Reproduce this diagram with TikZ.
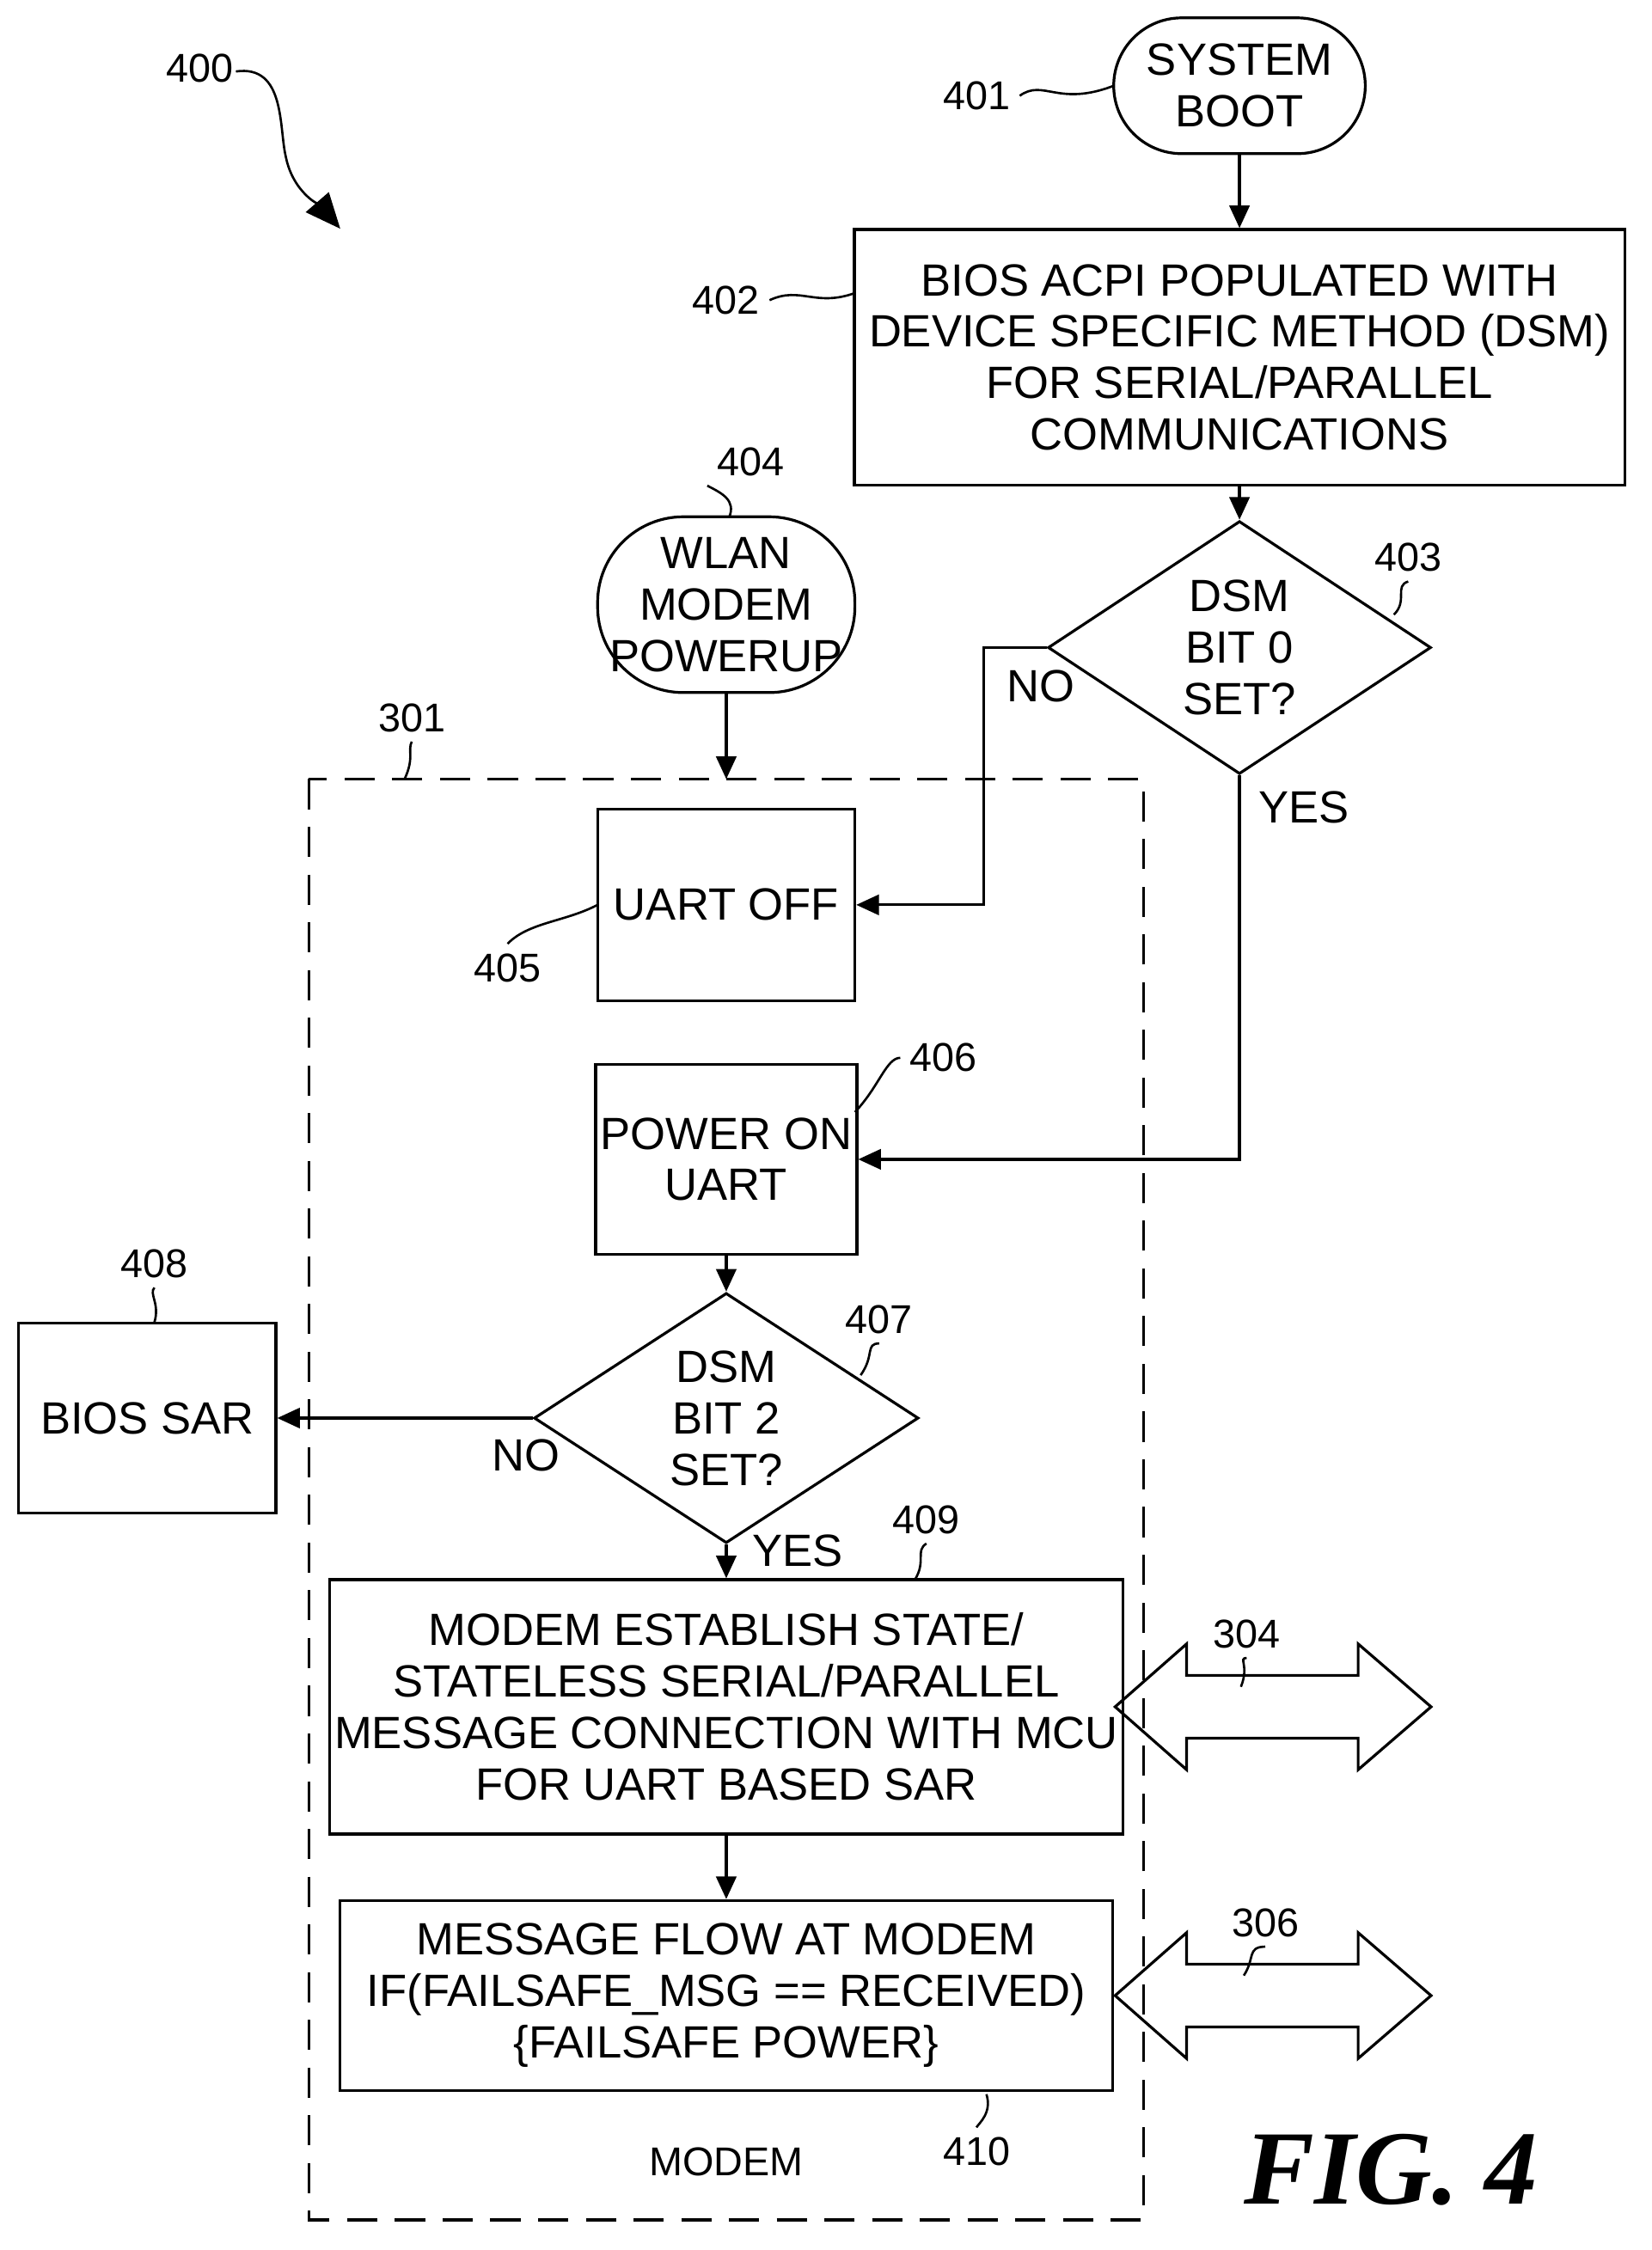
\documentclass[tikz,border=0pt]{standalone}
\usepackage{fontspec}
\setmainfont{Liberation Sans}
\newfontfamily\figfont{Liberation Serif}
\usetikzlibrary{arrows.meta,shapes.geometric}
\begin{document}
\begin{tikzpicture}[x=0.02cm,y=-0.02cm,line width=1.1pt,
    every node/.style={font=\fontsize{18}{20.5}\selectfont},
    box/.style={draw,rectangle,align=center,inner sep=2pt},
    term/.style={draw,rectangle,align=center,rounded corners=0.95cm,inner sep=2pt},
    dec/.style={draw,diamond,aspect=1.5,align=center,inner sep=0pt,minimum width=5.36cm,minimum height=3.54cm},
    flow/.style={-{Triangle[length=9pt,width=8pt]}},
    lead/.style={line width=0.9pt},
    num/.style={font=\fontsize{16}{18}\selectfont}]
\useasboundingbox (0,0) rectangle (1155,1574);
% nodes
\node[term,minimum width=3.52cm,minimum height=1.9cm] (boot) at (867,60) {SYSTEM\\BOOT};
\node[box,minimum width=10.78cm,minimum height=3.58cm] (acpi) at (867,250) {BIOS ACPI POPULATED WITH\\DEVICE SPECIFIC METHOD (DSM)\\FOR SERIAL/PARALLEL\\COMMUNICATIONS};
\node[dec] (bit0) at (867,453) {DSM\\BIT 0\\SET?};
\node[term,rounded corners=1.2cm,minimum width=3.6cm,minimum height=2.46cm] (wlan) at (508,423) {WLAN\\MODEM\\POWERUP};
\node[box,minimum width=3.6cm,minimum height=2.68cm] (uoff) at (508,633) {UART OFF};
\node[box,minimum width=3.6cm,minimum height=2.66cm] (uon) at (508,811) {POWER ON\\UART};
\node[dec,minimum width=5.38cm,minimum height=3.5cm] (bit2) at (508,992) {DSM\\BIT 2\\SET?};
\node[box,minimum width=3.6cm,minimum height=2.66cm] (sar) at (103,992) {BIOS SAR};
\node[box,minimum width=10.82cm,minimum height=3.56cm] (conn) at (508,1194) {MODEM ESTABLISH STATE/\\STATELESS SERIAL/PARALLEL\\MESSAGE CONNECTION WITH MCU\\FOR UART BASED SAR};
\node[box,minimum width=10.82cm,minimum height=2.66cm] (msg) at (508,1396) {MESSAGE FLOW AT MODEM\\IF(FAILSAFE\_MSG == RECEIVED)\\\{FAILSAFE POWER\}};
\draw[dash pattern=on 12pt off 7pt] (216,545) rectangle (800,1553);
\node[num] (modem) at (508,1512) {MODEM};
\node[font=\figfont\bfseries\itshape\fontsize{42}{44}\selectfont] (fig) at (973,1518) {FIG. 4};
\coordinate (top) at (508,545);
% connectors
\draw[flow] (boot) -- (acpi);
\draw[flow] (acpi) -- (bit0);
\draw[flow] (bit0.west) -| (688,633) -- (uoff.east);
\draw[flow] (bit0.south) |- (uon.east);
\draw[flow] (wlan) -- (top);
\draw[flow] (uon) -- (bit2);
\draw[flow] (bit2.west) -- (sar.east);
\draw[flow] (bit2.south) -- (conn.north);
\draw[flow] (conn) -- (msg);
\node (no1) at (728,480) {NO};
\node (yes1) at (912,565) {YES};
\node (no2) at (368,1018) {NO};
\node (yes2) at (558,1085) {YES};
% double arrows
\foreach \y in {1194,1396}
  \draw (780,\y) -- (830,\y-44) -- (830,\y-22) -- (950,\y-22) -- (950,\y-44) -- (1001,\y)
    -- (950,\y+44) -- (950,\y+22) -- (830,\y+22) -- (830,\y+44) -- cycle;
% reference numerals
\node[num] (n400) at (140,48) {400};
\draw[lead,-{Triangle[length=14pt,width=12pt]}] (165,50) .. controls (200,45) and (195,90) .. (200,110) .. controls (205,135) and (225,145) .. (238,160);
\node[num] (n401) at (683,67) {401};
\draw[lead] (n401.east) .. controls (730,55) and (740,75) .. (779,60);
\node[num] (n402) at (508,210) {402};
\draw[lead] (n402.east) .. controls (560,200) and (570,215) .. (598,205);
\node[num] (n403) at (985,390) {403};
\draw[lead] (n403.south) .. controls (975,410) and (985,420) .. (975,430);
\node[num] (n404) at (525,323) {404};
\draw[lead] (n404.south west) .. controls (505,345) and (515,350) .. (510,362);
\node[num] (n301) at (288,502) {301};
\draw[lead] (n301.south) .. controls (285,525) and (290,530) .. (283,545);
\node[num] (n405) at (355,677) {405};
\draw[lead] (n405.north) .. controls (370,645) and (395,645) .. (418,633);
\node[num] (n406) at (660,740) {406};
\draw[lead] (n406.west) .. controls (620,740) and (615,760) .. (598,778);
\node[num] (n407) at (615,923) {407};
\draw[lead] (n407.south) .. controls (605,940) and (612,948) .. (602,962);
\node[num] (n408) at (108,884) {408};
\draw[lead] (n408.south) .. controls (104,905) and (112,912) .. (108,925);
\node[num] (n409) at (648,1063) {409};
\draw[lead] (n409.south) .. controls (640,1085) and (648,1092) .. (640,1105);
\node[num] (n410) at (683,1505) {410};
\draw[lead] (n410.north) .. controls (685,1485) and (694,1478) .. (690,1465);
\node[num] (n304) at (872,1143) {304};
\draw[lead] (n304.south) .. controls (866,1160) and (874,1165) .. (868,1180);
\node[num] (n306) at (885,1345) {306};
\draw[lead] (n306.south) .. controls (872,1362) and (878,1370) .. (870,1382);
\end{tikzpicture}
\end{document}
